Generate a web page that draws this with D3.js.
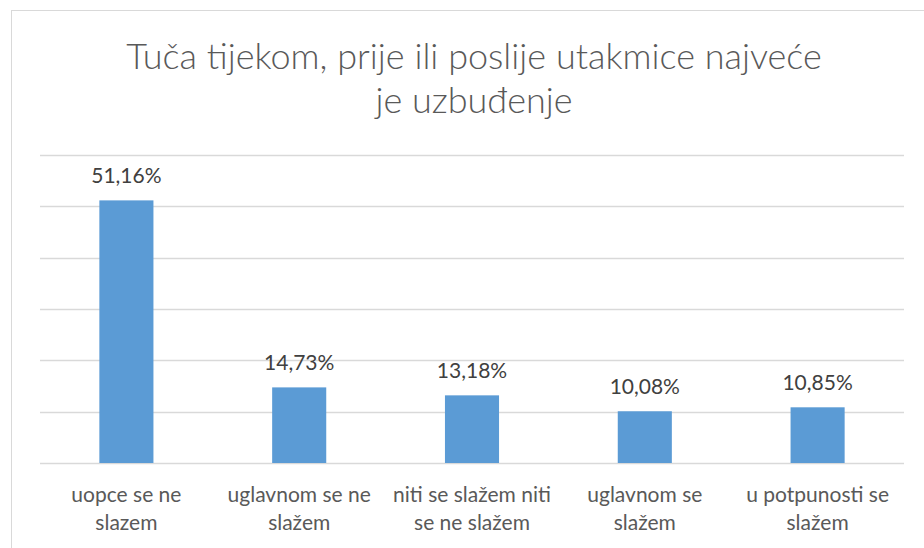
<!DOCTYPE html>
<html><head><meta charset="utf-8">
<script src="https://cdn.jsdelivr.net/npm/d3@7"></script>
<style>body{margin:0;background:#fff}svg{display:block}</style>
</head><body>
<script>
const categories = [["uopce se ne","slazem"],["uglavnom se ne","slažem"],["niti se slažem niti","se ne slažem"],["uglavnom se","slažem"],["u potpunosti se","slažem"]];
const values = [51.16, 14.73, 13.18, 10.08, 10.85];
const valueLabels = ["51,16%","14,73%","13,18%","10,08%","10,85%"];
const yTicks = [0,10,20,30,40,50,60];
const titleLines = ["Tuča tijekom, prije ili poslije utakmice najveće","je uzbuđenje"];

const W=924,H=548;
const svg=d3.select("body").append("svg").attr("width",W).attr("height",H);
const font="Lato, 'Open Sans', sans-serif";
svg.append("rect").attr("x",11.5).attr("y",10.5).attr("width",W).attr("height",H).attr("fill","#fff").attr("stroke","#d9d9d9");

const x=d3.scaleBand().domain(d3.range(values.length)).range([40,904]).padding(0);
const y=d3.scaleLinear().domain([0,60]).range([463,155]);

svg.append("g").selectAll("line").data(yTicks).join("line")
 .attr("x1",40).attr("x2",904).attr("y1",d=>Math.round(y(d))+0.5).attr("y2",d=>Math.round(y(d))+0.5)
 .attr("stroke","#d9d9d9").attr("stroke-width",1.3);

const bw=x.bandwidth()*0.313;
svg.append("g").selectAll("rect").data(values).join("rect")
 .attr("x",(d,i)=>x(i)+x.bandwidth()/2-bw/2).attr("width",bw)
 .attr("y",d=>y(d)).attr("height",d=>y(0)-y(d)).attr("fill","#5b9bd5");

svg.append("g").selectAll("text").data(values).join("text")
 .attr("x",(d,i)=>x(i)+x.bandwidth()/2).attr("y",d=>y(d)-17)
 .attr("text-anchor","middle").attr("font-family",font).attr("font-size",21).attr("fill","#404040")
 .text((d,i)=>valueLabels[i]);

const cl=svg.append("g").selectAll("text").data(categories).join("text")
 .attr("text-anchor","middle").attr("font-family",font).attr("font-size",21).attr("fill","#595959");
cl.each(function(d,i){
  d3.select(this).selectAll("tspan").data(d).join("tspan")
   .attr("x",x(i)+x.bandwidth()/2).attr("y",(t,j)=>502+j*28).text(t=>t);
});

svg.append("g").selectAll("text").data(titleLines).join("text")
 .attr("x",474).attr("y",(d,i)=>69+i*43.5).attr("text-anchor","middle")
 .attr("font-family",font).attr("font-weight",300).attr("font-size",36).attr("fill","#595959").text(d=>d);
</script>
</body></html>
